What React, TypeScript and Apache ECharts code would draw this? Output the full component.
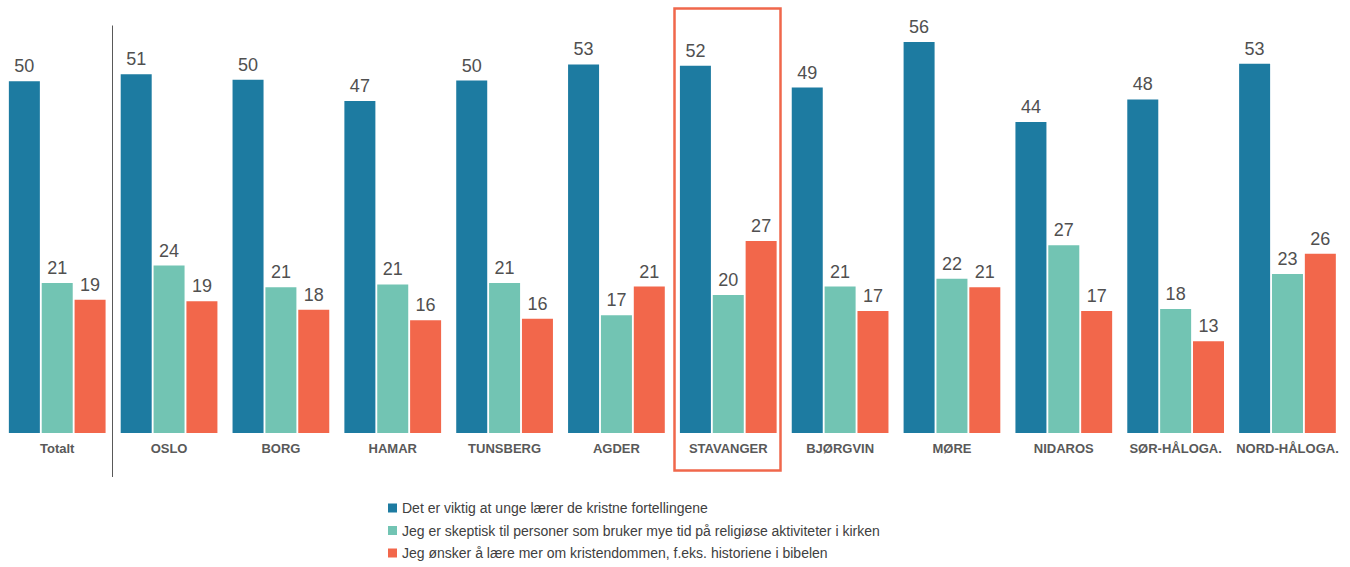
import React, { useEffect, useRef } from "react";
import * as echarts from "echarts";

const categories = [
  "Totalt", "OSLO", "BORG", "HAMAR", "TUNSBERG", "AGDER",
  "STAVANGER", "BJØRGVIN", "MØRE", "NIDAROS", "SØR-HÅLOGA.", "NORD-HÅLOGA.",
];
const seriesNames = [
  "Det er viktig at unge lærer de kristne fortellingene",
  "Jeg er skeptisk til personer som bruker mye tid på religiøse aktiviteter i kirken",
  "Jeg ønsker å lære mer om kristendommen, f.eks. historiene i bibelen",
];
const viktig = [50.2, 51.2, 50.4, 47.4, 50.3, 52.6, 52.4, 49.3, 55.8, 44.4, 47.6, 52.7];
const skeptisk = [21.4, 23.9, 20.8, 21.2, 21.4, 16.8, 19.7, 20.9, 22.0, 26.8, 17.7, 22.7];
const onsker = [19.0, 18.8, 17.6, 16.1, 16.3, 20.9, 27.4, 17.4, 20.8, 17.4, 13.1, 25.6];
const colors = ["#1d7ba1", "#72c4b3", "#f2674b"];

export default function App() {
  const ref = useRef<HTMLDivElement>(null);
  useEffect(() => {
    if (!ref.current) return;
    const chart = echarts.init(ref.current, null, { renderer: "svg" });
    const values = [viktig, skeptisk, onsker];
    chart.setOption({
      animation: false,
      textStyle: { fontFamily: "Liberation Sans, Arial, sans-serif" },
      grid: { left: 1.3, right: 6.6, top: 12.6, bottom: 134, containLabel: false },
      legend: {
        orient: "vertical",
        left: 388,
        top: 499,
        padding: 0,
        itemWidth: 9,
        itemHeight: 9,
        itemGap: 4.5,
        icon: "rect",
        textStyle: {
          fontFamily: "Liberation Sans, Arial, sans-serif",
          fontSize: 14,
          color: "#404040",
          lineHeight: 18,
        },
        data: seriesNames,
      },
      xAxis: {
        type: "category",
        data: categories,
        axisLine: { show: false },
        axisTick: { show: false },
        axisLabel: {
          interval: 0,
          margin: 9,
          fontSize: 13,
          fontWeight: "bold",
          color: "#595959",
          fontFamily: "Liberation Sans, Arial, sans-serif",
        },
      },
      yAxis: {
        type: "value",
        min: 0,
        max: 60,
        show: false,
        splitLine: { show: false },
      },
      series: values.map((v, i) => ({
        name: seriesNames[i],
        type: "bar",
        data: v,
        barWidth: 31,
        barGap: "6%",
        itemStyle: { color: colors[i] },
        label: {
          show: true,
          position: "top",
          distance: 6,
          fontSize: 18,
          color: "#505050",
          fontFamily: "Liberation Sans, Arial, sans-serif",
          formatter: (p: any) => String(Math.round(p.value)),
        },
      })),
      graphic: [
        {
          type: "line",
          shape: { x1: 112.5, y1: 25.5, x2: 112.5, y2: 477 },
          style: { stroke: "#595959", lineWidth: 1 },
        },
        {
          type: "rect",
          shape: { x: 674.5, y: 8.5, width: 106, height: 462 },
          style: { fill: "none", stroke: "#f0674b", lineWidth: 2.5 },
        },
      ],
    });
    return () => chart.dispose();
  }, []);
  return (
    <div
      ref={ref}
      style={{ position: "fixed", left: 0, top: 0, width: 1350, height: 567, background: "#fff" }}
    />
  );
}
